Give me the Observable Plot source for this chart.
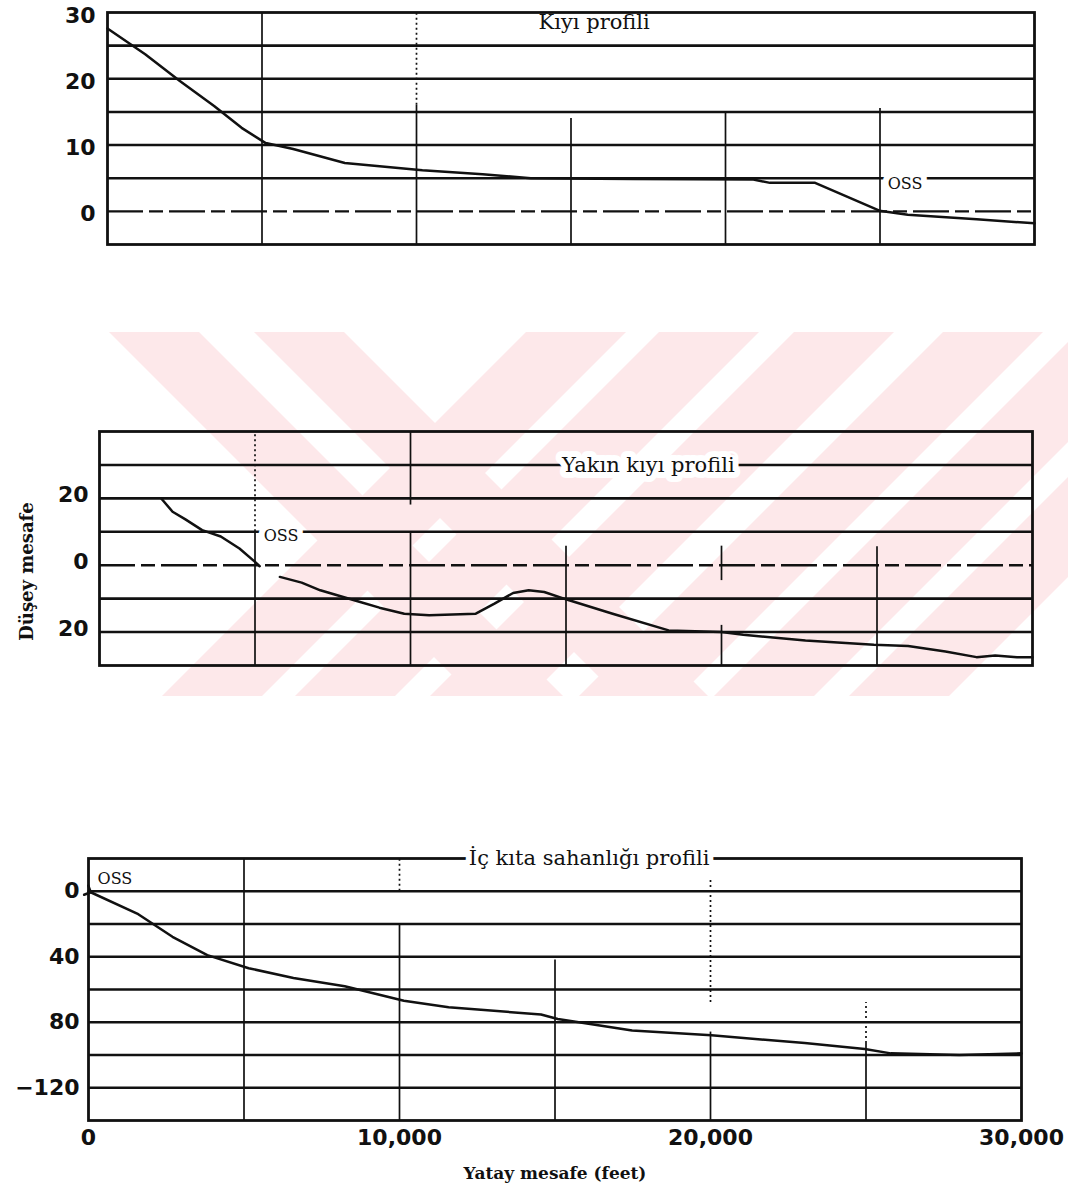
<!DOCTYPE html>
<html>
<head>
<meta charset="utf-8">
<script src="https://cdn.jsdelivr.net/npm/d3@7"></script>
<script src="https://cdn.jsdelivr.net/npm/@observablehq/plot@0.6"></script>
<style>
  html, body { margin: 0; padding: 0; background: #fff; }
  #root { position: relative; width: 1068px; height: 1195px; overflow: hidden; background: #fff; }
  #wm { position: absolute; left: 0; top: 0; }
  .panel { position: absolute; left: 0; }
</style>
</head>
<body>
<div id="root"></div>
<script>
// ---------------- data ----------------
const xDomain = [0, 30000];
const xTicks = [0, 10000, 20000, 30000];
const titles = ["Kıyı profili", "Yakın kıyı profili", "İç kıta sahanlığı profili"];
const yAxisTitle = "Düşey mesafe";
const xAxisTitle = "Yatay mesafe (feet)";
const ossLabel = "OSS";

// Panel 1: Kıyı profili
const shoreX = [0, 1220, 2330, 3450, 4340, 5120, 6010, 7680, 10190, 12140, 13700, 17000, 20900, 21440, 22900, 24980, 25900, 28130, 30000];
const shoreY = [27.6, 23.7, 19.7, 15.9, 12.6, 10.3, 9.4, 7.3, 6.2, 5.6, 5.0, 4.9, 4.8, 4.3, 4.3, 0.1, -0.5, -1.2, -1.8];
const shoreYDomain = [-5, 30];
const shoreYTicks = [0, 10, 20, 30];
const shoreYTickLabels = ["0", "10", "20", "30"];
const shoreGrid = [0, 5, 10, 15, 20, 25];
const shoreVSolid = [
  {x: 5000, y1: -5, y2: 30}, {x: 10000, y1: -5, y2: 16}, {x: 15000, y1: -5, y2: 14},
  {x: 20000, y1: -5, y2: 15}, {x: 25000, y1: -5, y2: 15.5}
];
const shoreVDotted = [{x: 10000, y1: 16, y2: 30}];
const shoreTitlePos = {x: 13950, y: 28.5};
const shoreOssPos = {x: 25250, y: 4.1};

// Panel 2: Yakın kıyı profili (two traced segments)
const nearAX = [2000, 2350, 2750, 3300, 3900, 4500, 5000, 5150];
const nearAY = [19.8, 16, 13.8, 10.5, 8.6, 5, 1, -0.3];
const nearBX = [5800, 6500, 7100, 8300, 9000, 9800, 10600, 12100, 12700, 13300, 13800, 14300, 15100, 16500, 18300, 20000, 20700, 22700, 24900, 26000, 27200, 28200, 28800, 29500, 30000];
const nearBY = [-3.5, -5.2, -7.5, -10.8, -12.7, -14.5, -15, -14.5, -11.5, -8.3, -7.5, -8, -10.5, -14.5, -19.5, -20, -20.8, -22.5, -23.8, -24.2, -25.8, -27.5, -27, -27.5, -27.5];
const nearYDomain = [-30, 40];
const nearYTicks = [20, 0, -20];
const nearYTickLabels = ["20", "0", "20"];
const nearGrid = [-20, -10, 0, 10, 20, 30];
const nearVSolid = [
  {x: 5000, y1: -30, y2: 10}, {x: 10000, y1: -30, y2: 10}, {x: 10000, y1: 18, y2: 40},
  {x: 15000, y1: -30, y2: 5.7}, {x: 20000, y1: -30, y2: -18}, {x: 20000, y1: -4.6, y2: 5.7},
  {x: 25000, y1: -30, y2: 5.5}
];
const nearVDotted = [{x: 5000, y1: 10, y2: 40}];
const nearTitlePos = {x: 14870, y: 30};
const nearOssPos = {x: 5280, y: 8.8};

// Panel 3: İç kıta sahanlığı profili
const shelfX = [0, 1600, 2700, 3820, 5150, 6590, 8240, 10140, 11580, 14550, 15090, 17480, 20030, 23030, 24960, 25800, 28000, 30000];
const shelfY = [0, -14, -27.8, -39, -47, -53, -58, -66.9, -70.8, -75.3, -78, -85, -88, -92.7, -96.4, -99, -100, -99];
const shelfYDomain = [-140, 20];
const shelfYTicks = [0, -40, -80, -120];
const shelfYTickLabels = ["0", "40", "80", "\u2212120"];
const shelfGrid = [0, -20, -40, -60, -80, -100, -120];
const shelfVSolid = [
  {x: 5000, y1: -140, y2: 20}, {x: 10000, y1: -140, y2: -20}, {x: 15000, y1: -140, y2: -42},
  {x: 20000, y1: -140, y2: -86}, {x: 25000, y1: -140, y2: -93}
];
const shelfVDotted = [{x: 10000, y1: 0, y2: 20}, {x: 20000, y1: -68, y2: 8}, {x: 25000, y1: -93, y2: -68}];
const shelfTitlePos = {x: 12230, y: 20};
const shelfOssPos = {x: 290, y: 7.5};

// background watermark bands (page decoration): left edge at the band's top, in px
const wmBackslash = [109, 254];
const wmSlash = [526, 659, 794, 943, 1078, 1213];

// ---------------- watermark ----------------
(function watermark() {
  const top = 332, bottom = 696, left = 109, right = 1068, H = bottom - top;
  const svg = d3.select("#root").append("svg").attr("id", "wm").attr("width", 1068).attr("height", 1195);
  svg.append("clipPath").attr("id", "wmclip").append("rect")
    .attr("x", left).attr("y", top).attr("width", right - left).attr("height", H);
  const g = svg.append("g").attr("clip-path", "url(#wmclip)").attr("fill", "#fde8ea");
  for (const x0 of wmBackslash) {
    const w = 90;
    g.append("polygon").attr("points", [[x0, top], [x0 + w, top], [x0 + w + H, bottom], [x0 + H, bottom]].join(" "));
  }
  for (const x0 of wmSlash) {
    const w = 100;
    g.append("polygon").attr("points", [[x0, top], [x0 + w, top], [x0 + w - H, bottom], [x0 - H, bottom]].join(" "));
  }
})();

// ---------------- drawing ----------------
const INK = "#111";
const SANS = "DejaVu Sans";
const SERIF = "DejaVu Serif";

function halo(text, pos, size, anchor) {
  return Plot.text([text], {
    x: pos.x, y: pos.y, text: d => d, textAnchor: anchor || "start",
    fontFamily: SERIF, fontSize: size, fill: INK,
    stroke: "white", strokeWidth: 12, strokeLinejoin: "round", paintOrder: "stroke"
  });
}

function makePanel(cfg) {
  const labelMap = new Map(cfg.yTicks.map((t, i) => [t, cfg.yTickLabels[i]]));
  const marks = [];
  marks.push(Plot.ruleY(cfg.grid.filter(v => !(cfg.dashedZero && v === 0)), {stroke: INK, strokeWidth: 2.6}));
  if (cfg.dashedZero) marks.push(Plot.ruleY([0], {stroke: INK, strokeWidth: 2.4, strokeDasharray: "36 6 14 6"}));
  marks.push(Plot.ruleX(cfg.vSolid, {x: "x", y1: "y1", y2: "y2", stroke: INK, strokeWidth: 1.7}));
  marks.push(Plot.ruleX(cfg.vDotted, {x: "x", y1: "y1", y2: "y2", stroke: INK, strokeWidth: 1.7, strokeDasharray: "2 3"}));
  marks.push(Plot.frame({stroke: INK, strokeWidth: 2.8}));
  for (const c of cfg.curves) {
    marks.push(Plot.line(c.x, {x: c.x, y: c.y, stroke: INK, strokeWidth: 2.5, markerStart: c.marker || null}));
  }
  marks.push(...cfg.texts);
  marks.push(Plot.axisY(cfg.yTicks, {
    tickSize: 0, tickPadding: cfg.pad, tickFormat: d => labelMap.get(d), label: null,
    fontSize: 22, fontWeight: "bold", fontFamily: SANS, fill: INK, dy: cfg.ydy || 0
  }));
  if (cfg.xAxis) {
    marks.push(Plot.axisX(xTicks, {
      tickSize: 0, tickPadding: 9, tickFormat: d3.format(","), label: null,
      fontSize: 22, fontWeight: "bold", fontFamily: SANS, fill: INK
    }));
  }
  if (cfg.extra) marks.push(...cfg.extra);

  const svg = Plot.plot({
    width: 1068, height: cfg.height,
    marginTop: cfg.mt, marginBottom: cfg.mb, marginLeft: cfg.ml, marginRight: cfg.mr,
    x: {domain: xDomain, axis: null},
    y: {domain: cfg.yDomain, axis: null},
    style: {background: "transparent", overflow: "visible", fontFamily: SANS},
    marks
  });
  svg.classList.add("panel");
  svg.style.top = cfg.top + "px";
  svg.style.position = "absolute";
  svg.style.left = "0px";
  document.getElementById("root").appendChild(svg);
}

// Panel 1
makePanel({
  top: 0, height: 252, mt: 12, mb: 8, ml: 107, mr: 34,
  yDomain: shoreYDomain, yTicks: shoreYTicks, yTickLabels: shoreYTickLabels, pad: 12, ydy: 3,
  grid: shoreGrid, dashedZero: true, vSolid: shoreVSolid, vDotted: shoreVDotted,
  curves: [{x: shoreX, y: shoreY}],
  texts: [
    Plot.text([titles[0]], {x: shoreTitlePos.x, y: shoreTitlePos.y, text: d => d, textAnchor: "start", fontFamily: SERIF, fontSize: 21, fill: INK}),
    halo(ossLabel, shoreOssPos, 16)
  ]
});

// Panel 2
makePanel({
  top: 400, height: 280, mt: 31, mb: 15, ml: 99, mr: 36,
  yDomain: nearYDomain, yTicks: nearYTicks, yTickLabels: nearYTickLabels, pad: 11, ydy: -3,
  grid: nearGrid, dashedZero: true, vSolid: nearVSolid, vDotted: nearVDotted,
  curves: [{x: nearAX, y: nearAY}, {x: nearBX, y: nearBY}],
  texts: [halo(titles[1], nearTitlePos, 21), halo(ossLabel, nearOssPos, 16)],
  extra: [
    Plot.text([yAxisTitle], {frameAnchor: "left", textAnchor: "middle", text: d => d, rotate: -90, dx: -72, dy: 23,
      fontFamily: SERIF, fontSize: 18, fontWeight: "bold", fill: INK})
  ]
});

// Panel 3
makePanel({
  top: 830, height: 365, mt: 28, mb: 75, ml: 88, mr: 47,
  yDomain: shelfYDomain, yTicks: shelfYTicks, yTickLabels: shelfYTickLabels, pad: 9, ydy: 0,
  grid: shelfGrid, dashedZero: false, vSolid: shelfVSolid, vDotted: shelfVDotted,
  curves: [{x: shelfX, y: shelfY, marker: "arrow"}],
  texts: [halo(titles[2], shelfTitlePos, 21), halo(ossLabel, shelfOssPos, 16)],
  xAxis: true,
  extra: [
    Plot.text([xAxisTitle], {frameAnchor: "bottom", text: d => d, dy: 58,
      fontFamily: SERIF, fontSize: 17, fontWeight: "bold", fill: INK})
  ]
});
</script>
</body>
</html>
